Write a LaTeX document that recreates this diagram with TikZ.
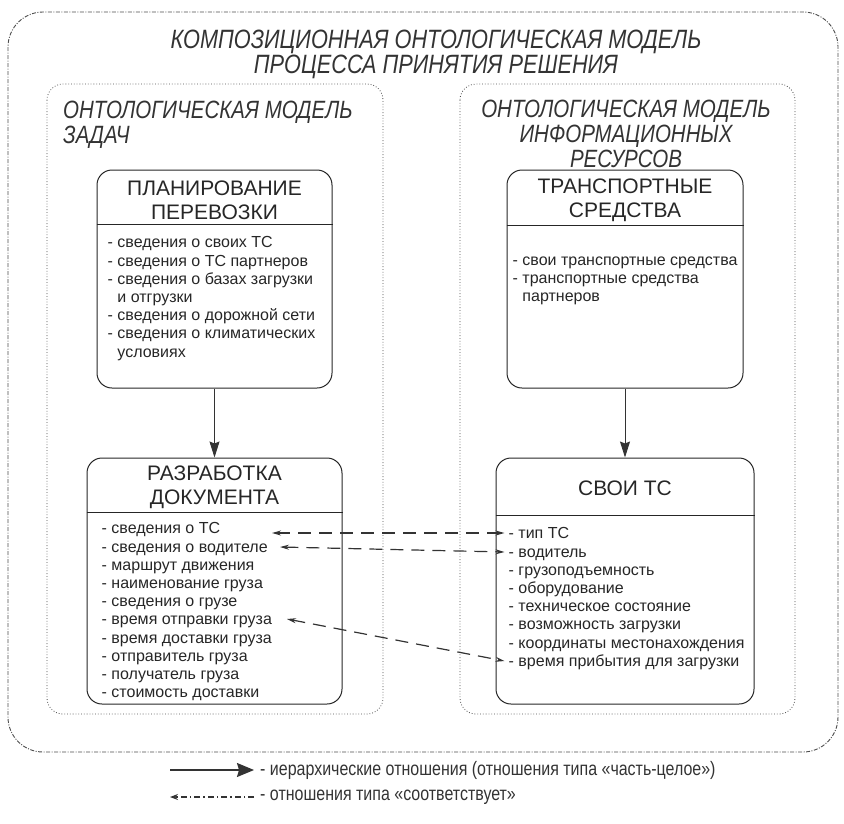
\documentclass[tikz,border=0pt]{standalone}
\usepackage{fontspec}
\setmainfont{Liberation Sans}
\newfontfamily\narrowfont[FakeStretch=0.82]{Liberation Sans}
\usetikzlibrary{arrows.meta, positioning}
\tikzset{
  outerframe/.style={draw=black!70, dash pattern=on 4pt off 1.5pt on 1pt off 1.5pt, rounded corners=35pt, line width=0.9pt},
  modelframe/.style={draw=black!70, dotted, rounded corners=16pt, line width=0.8pt},
  block/.style={rectangle, rounded corners=15pt, draw=black!85, line width=1pt},
  divider/.style={draw=black!85, line width=1pt},
  blockhead/.style={font=\fontsize{21}{24}\selectfont, align=center, text=black!85},
  blockbody/.style={font=\fontsize{16}{18.2}\selectfont, align=left, text=black!85, inner sep=0pt, anchor=north west},
  frametitle/.style={font=\narrowfont\itshape\fontsize{25}{25}\selectfont, text=black!80, inner sep=0pt},
  legendtext/.style={font=\narrowfont\fontsize{19.5}{19.5}\selectfont, text=black!80, anchor=west, inner sep=0pt},
  arrow/.style={draw=black!80, line width=0.9pt, -{Stealth[length=16pt,width=10pt,inset=2pt]}},
  linkarrow/.style={draw=black!80, line width=1.2pt, dash pattern=on 13pt off 8pt, {Stealth[length=9pt,width=5pt]}-{Stealth[length=9pt,width=5pt]}},
  legendarrow/.style={draw=black!80, line width=1.3pt, -{Stealth[length=17pt,width=14pt,inset=2pt]}},
  legendlink/.style={draw=black!80, line width=1.2pt, dash pattern=on 6pt off 3pt on 1.5pt off 3pt, -{Stealth[length=8pt,width=6pt]}}
}
\begin{document}
\begin{tikzpicture}[x=1pt, y=-1pt, node distance=69pt]
  \useasboundingbox (0,0) rectangle (844,823);

  % frames
  \draw[outerframe] (8,12) rectangle (838,752);
  \draw[modelframe] (47,84) rectangle (383,714);
  \draw[modelframe] (460,84) rectangle (795,714);

  \node[frametitle, font=\narrowfont\itshape\fontsize{26.5}{23}\selectfont, align=center, anchor=north] (title) at (436,30) {КОМПОЗИЦИОННАЯ ОНТОЛОГИЧЕСКАЯ МОДЕЛЬ\\ПРОЦЕССА ПРИНЯТИЯ РЕШЕНИЯ};
  \node[frametitle, align=left, anchor=north west] (tasks) at (63,101) {ОНТОЛОГИЧЕСКАЯ МОДЕЛЬ\\ЗАДАЧ};
  \node[frametitle, align=center, anchor=north] (res) at (626,100) {ОНТОЛОГИЧЕСКАЯ МОДЕЛЬ\\ИНФОРМАЦИОННЫХ\\РЕСУРСОВ};

  % blocks
  \node[block, minimum width=235pt, minimum height=218pt] (plan) at (214.5,279) {};
  \node[block, minimum width=236pt, minimum height=218pt] (trans) at (625,279) {};
  \node[block, minimum width=255pt, minimum height=246pt, below=of plan] (doc) {};
  \node[block, minimum width=258pt, minimum height=246pt, below=of trans] (own) {};

  \draw[divider] ([yshift=-55pt]plan.north west) -- ([yshift=-55pt]plan.north east);
  \draw[divider] ([yshift=-56pt]trans.north west) -- ([yshift=-56pt]trans.north east);
  \draw[divider] ([yshift=-55pt]doc.north west) -- ([yshift=-55pt]doc.north east);
  \draw[divider] ([yshift=-58pt]own.north west) -- ([yshift=-58pt]own.north east);

  \node[blockhead] (plan-t) at ([yshift=-31pt]plan.north) {ПЛАНИРОВАНИЕ\\ПЕРЕВОЗКИ};
  \node[blockhead] (trans-t) at ([yshift=-31pt]trans.north) {ТРАНСПОРТНЫЕ\\СРЕДСТВА};
  \node[blockhead] (doc-t) at ([yshift=-30pt]doc.north) {РАЗРАБОТКА\\ДОКУМЕНТА};
  \node[blockhead] (own-t) at ([yshift=-31pt]own.north) {СВОИ ТС};

  \node[blockbody] (plan-b) at ([xshift=11pt, yshift=-67pt]plan.north west)
    {- сведения о своих ТС\\- сведения о ТС партнеров\\- сведения о базах загрузки\\\hphantom{- }и отгрузки\\- сведения о дорожной сети\\- сведения о климатических\\\hphantom{- }условиях};
  \node[blockbody] (trans-b) at ([xshift=6pt, yshift=-87pt]trans.north west)
    {- свои транспортные средства\\- транспортные средства\\\hphantom{- }партнеров};
  \node[blockbody] (doc-b) at ([xshift=15pt, yshift=-65pt]doc.north west)
    {- сведения о ТС\\- сведения о водителе\\- маршрут движения\\- наименование груза\\- сведения о грузе\\- время отправки груза\\- время доставки груза\\- отправитель груза\\- получатель груза\\- стоимость доставки};
  \node[blockbody] (own-b) at ([xshift=13pt, yshift=-70pt]own.north west)
    {- тип ТС\\- водитель\\- грузоподъемность\\- оборудование\\- техническое состояние\\- возможность загрузки\\- координаты местонахождения\\- время прибытия для загрузки};

  % hierarchy
  \draw[arrow] (plan) -- (doc);
  \draw[arrow] (trans.south) -- (trans.south |- own.north);

  % correspondence
  \coordinate (doc-ts) at (272,533);
  \coordinate (doc-drv) at (280,547);
  \coordinate (doc-dep) at (287,619);
  \coordinate (own-ts) at ([xshift=9pt]own.west |- 0,533);
  \coordinate (own-drv) at ([xshift=9pt]own.west |- 0,552);
  \coordinate (own-arr) at ([xshift=9pt]own.west |- 0,661);
  \draw[linkarrow] (doc-ts) -- (own-ts);
  \draw[linkarrow] (doc-drv) -- (own-drv);
  \draw[linkarrow] (doc-dep) -- (own-arr);

  % legend
  \coordinate (leg1) at (170,770);
  \node[legendtext] (leg1-t) at (260,770) {- иерархические отношения (отношения типа «часть-целое»)};
  \draw[legendarrow] (leg1) -- ([xshift=-6pt]leg1-t.west);
  \coordinate (leg2) at (170,797);
  \node[legendtext] (leg2-t) at (260,797) {- отношения типа «соответствует»};
  \draw[legendlink] ([xshift=-6pt]leg2-t.west) -- (leg2);
\end{tikzpicture}
\end{document}
